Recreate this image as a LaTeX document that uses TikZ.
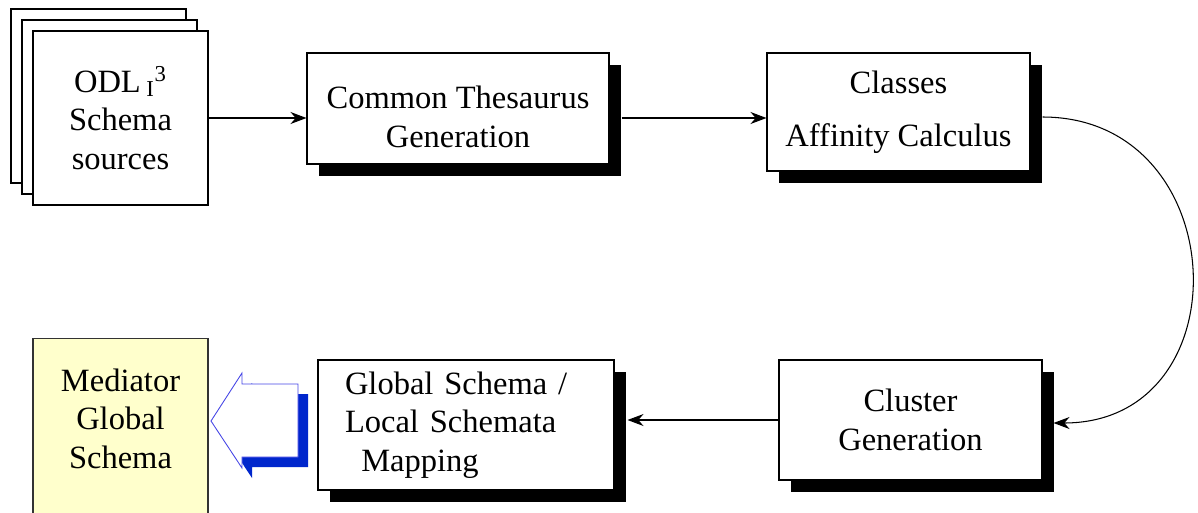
\documentclass[tikz,border=0pt]{standalone}
\usepackage{fontspec}
\setmainfont{Liberation Serif}
\usepackage{tikz}
\usepackage{xcolor}
\usetikzlibrary{positioning, arrows.meta, shadows}
\definecolor{medyellow}{RGB}{255, 255, 204}
\definecolor{deepblue}{RGB}{0, 38, 204}
\definecolor{lineblue}{RGB}{70, 70, 230}

\begin{document}
\begin{tikzpicture}[
    block/.style={
      rectangle,
      draw=black,
      line width=0.6pt,
      fill=white,
      font=\fontsize{18.5}{22}\selectfont,
      align=center,
      drop shadow={shadow xshift=0.24cm, shadow yshift=-0.24cm,
                   fill=black, opacity=1}
    },
    sources/.style={
      rectangle,
      draw=black,
      line width=0.6pt,
      fill=white,
      font=\fontsize{18.5}{22}\selectfont,
      align=center,
      minimum width=3.5cm,
      minimum height=3.48cm,
      double copy shadow={shadow xshift=-0.22cm, shadow yshift=0.22cm}
    },
    mediator/.style={
      rectangle,
      draw=black!80,
      line width=0.6pt,
      fill=medyellow,
      font=\fontsize{18.5}{22}\selectfont,
      align=center,
      minimum width=3.5cm,
      minimum height=3.6cm
    },
    arrow/.style={-{Stealth[length=0.32cm, width=0.24cm]}, line width=0.6pt, draw=black}
  ]
    \useasboundingbox (0,0) rectangle (23.96,-10.24);

    \node[sources] (odl) at (2.41,-2.36)
      {ODL\,\textsubscript{I}\textsuperscript{3}\\Schema\\sources};
    \node[block, minimum width=6.04cm, minimum height=2.22cm] (thes) at (9.16,-2.17)
      {\mbox{}\\Common Thesaurus\\Generation};
    \node[block, minimum width=5.26cm, minimum height=2.36cm] (affinity) at (17.97,-2.24)
      {Classes\\[0.28cm]Affinity Calculus};
    \node[block, minimum width=5.26cm, minimum height=2.4cm] (cluster) at (18.21,-8.4)
      {Cluster\\Generation};
    \node[block, align=left, text width=4.84cm, inner xsep=0.54cm,
          minimum height=2.6cm] (mapping) at (9.32,-8.5)
      {Global Schema /\\Local Schemata\\\ \,Mapping};
    \node[mediator, anchor=north] (global) at (2.41,-6.76)
      {Mediator\\Global\\Schema\\[-0.38cm]\mbox{}};

    \draw[arrow] (odl.east) -- (odl.east -| thes.west);
    \draw[arrow] ([xshift=0.24cm]odl.east -| thes.east) -- (odl.east -| affinity.west);
    \draw[arrow] ([xshift=0.24cm, yshift=-0.1cm]affinity.east)
      to[out=0, in=0, looseness=1.6] ([xshift=0.22cm, yshift=-0.06cm]cluster.east);
    \draw[arrow] (cluster.west) -- ([xshift=0.26cm]cluster.west -| mapping.east);

    % hollow blue arrow towards the mediator
    \fill[deepblue, shift={(0.2,-0.2)}]
      (4.22,-8.42) -- (4.84,-7.46) -- (4.84,-7.68) -- (5.96,-7.68)
      -- (5.96,-9.14) -- (4.84,-9.14) -- (4.84,-9.36) -- cycle;
    \draw[lineblue, line width=0.5pt, fill=white]
      (4.22,-8.42) -- (4.84,-7.46) -- (4.84,-7.68) -- (5.96,-7.68)
      -- (5.96,-9.14) -- (4.84,-9.14) -- (4.84,-9.36) -- cycle;
  \end{tikzpicture}
\end{document}
